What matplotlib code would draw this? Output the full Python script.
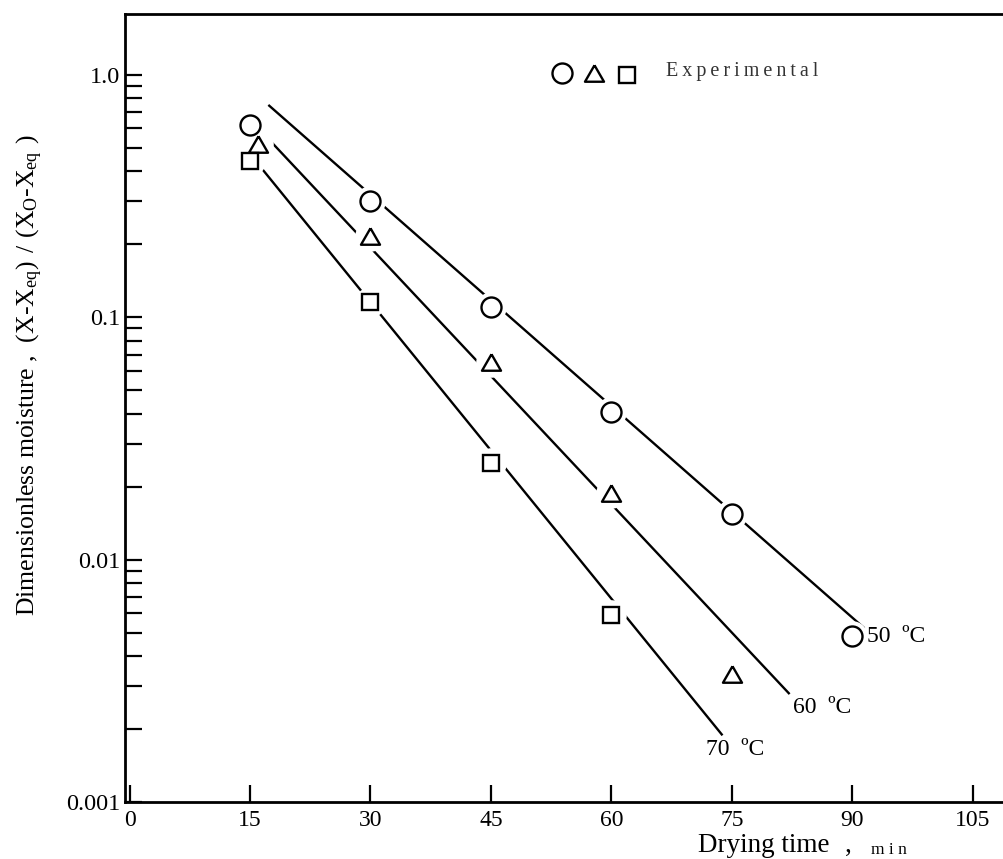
import numpy as np
import matplotlib.pyplot as plt
from matplotlib.ticker import FixedLocator, NullFormatter

plt.rcParams['font.family'] = ['Liberation Serif', 'DejaVu Serif']
plt.rcParams['mathtext.fontset'] = 'custom'
plt.rcParams['mathtext.rm'] = 'Liberation Serif'

# experimental points
t_50 = [15, 30, 45, 60, 75, 90]
mr_50 = [0.622, 0.300, 0.110, 0.0406, 0.0154, 0.00483]
t_60 = [16, 30, 45, 60, 75]
mr_60 = [0.520, 0.217, 0.0650, 0.0189, 0.00337]
t_70 = [15, 30, 45, 60]
mr_70 = [0.442, 0.115, 0.0251, 0.0059]

# fitted lines (end points)
fit_t_50 = [17.4, 91.4]
fit_mr_50 = [0.745, 0.00525]
fit_t_60 = [17.7, 82.1]
fit_mr_60 = [0.526, 0.00281]
fit_t_70 = [16.4, 73.75]
fit_mr_70 = [0.413, 0.0019]

x_ticks = [0, 15, 30, 45, 60, 75, 90, 105]
y_ticks = [0.001, 0.01, 0.1, 1.0]
y_tick_labels = ['0.001', '0.01', '0.1', '1.0']

tri = [(0, 0.433), (-0.5, -0.433), (0.5, -0.433), (0, 0.433)]

fig = plt.figure(figsize=(10.04, 8.59), dpi=100)
ax = fig.add_axes([125.5 / 1004, 1 - 802 / 859, 1 - 125.5 / 1004, (802 - 14) / 859])
ax.set_yscale('log')
ax.set_xlim(-0.5, 108.9)
ax.set_ylim(0.001, 1.78)

series = [
    (t_50, mr_50, fit_t_50, fit_mr_50, 'o', 14.4),
    (t_60, mr_60, fit_t_60, fit_mr_60, tri, 13.7),
    (t_70, mr_70, fit_t_70, fit_mr_70, 's', 12.0),
]
for t, mr, ft, fm, mk, ms in series:
    ax.plot(ft, fm, color='black', lw=1.7, zorder=1)
    ax.plot(t, mr, ls='none', marker='o', ms=22, mfc='white', mec='none', zorder=2)
    ax.plot(t, mr, ls='none', marker=mk, ms=ms, mfc='white', mec='black', mew=1.7, zorder=3)

ax.text(91.8, 0.00480, '50  ºC', fontsize=17, va='center', ha='left')
ax.text(82.6, 0.00245, '60  ºC', fontsize=17, va='center', ha='left')
ax.text(71.8, 0.00164, '70  ºC', fontsize=17, va='center', ha='left')

# legend drawn by hand
ax.plot([53.9], [1.02], ls='none', marker='o', ms=14.4, mfc='white', mec='black', mew=1.7)
ax.plot([57.9], [1.02], ls='none', marker=tri, ms=13.7, mfc='white', mec='black', mew=1.7)
ax.plot([62.0], [1.0], ls='none', marker='s', ms=12, mfc='white', mec='black', mew=1.7)
ax.text(66.8, 1.03, '\u2009'.join('Experimental'), fontsize=14.5, va='center', ha='left',
        color='#333333')

ax.spines['right'].set_visible(False)
for s in ['left', 'bottom', 'top']:
    ax.spines[s].set_linewidth(2)

ax.set_xticks(x_ticks)
ax.set_xticklabels([str(v) for v in x_ticks])
ax.yaxis.set_major_locator(FixedLocator(y_ticks))
ax.set_yticklabels(y_tick_labels)
minors = [m * 10.0 ** e for e in (-3, -2, -1) for m in range(2, 10)]
ax.yaxis.set_minor_locator(FixedLocator(minors))
ax.yaxis.set_minor_formatter(NullFormatter())
ax.tick_params(axis='both', which='both', direction='in', length=12, width=1.6,
               top=False, right=False)
ax.tick_params(axis='x', labelsize=17, pad=6)
ax.tick_params(axis='y', labelsize=17.5, pad=4)

fig.text(698 / 1004, 1 - 845 / 859, 'Drying time', fontsize=19.5, va='center', ha='left')
fig.text(845 / 1004, 1 - 845 / 859, ',', fontsize=19.5, va='center', ha='left')
fig.text(871 / 1004, 1 - 850 / 859, 'm i n', fontsize=12.5, va='center', ha='left')

fig.text(30 / 1004, 1 - 375 / 859,
         r'Dimensionless moisture ,  $\mathrm{(X\text{-}X_{eq})\ /\ (X_{O}\text{-}X_{eq}\ )}$',
         fontsize=18.5, rotation=90, va='center', ha='center')

fig.savefig('out.png', dpi=100)
